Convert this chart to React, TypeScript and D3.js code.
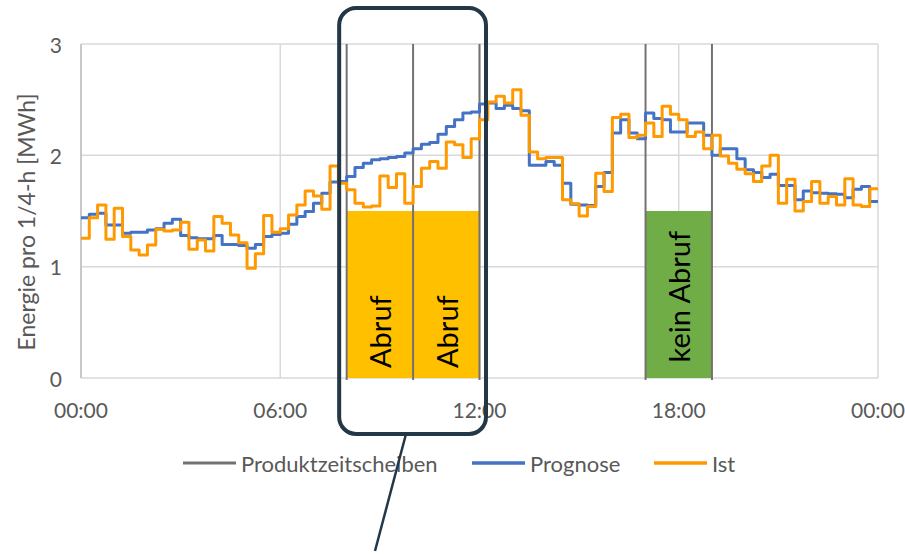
import React from "react";
import * as d3 from "d3";

const prognose: number[] = [
  1.44, 1.47, 1.48, 1.375, 1.375, 1.3, 1.31, 1.31, 1.33, 1.34, 1.39, 1.425,
  1.28, 1.26, 1.25, 1.25, 1.28, 1.2, 1.2, 1.19, 1.165, 1.2, 1.27, 1.29,
  1.3, 1.38, 1.45, 1.495, 1.57, 1.66, 1.76, 1.765, 1.81, 1.89, 1.93, 1.96,
  1.97, 1.98, 1.99, 2.02, 2.06, 2.1, 2.115, 2.19, 2.26, 2.32, 2.38, 2.39,
  2.46, 2.47, 2.42, 2.45, 2.42, 2.4, 1.91, 1.91, 1.945, 1.91, 1.75, 1.56,
  1.555, 1.55, 1.72, 1.845, 2.2, 2.32, 2.2, 2.15, 2.38, 2.33, 2.32, 2.21,
  2.21, 2.29, 2.29, 2.18, 2.0, 2.06, 2.06, 1.97, 1.87, 1.845, 1.8, 1.83,
  1.73, 1.73, 1.6, 1.68, 1.665, 1.66, 1.655, 1.65, 1.62, 1.695, 1.72, 1.585,
];

const ist: number[] = [
  1.255, 1.44, 1.555, 1.246, 1.525, 1.27, 1.15, 1.105, 1.195, 1.335, 1.32, 1.33,
  1.4, 1.156, 1.24, 1.14, 1.45, 1.39, 1.285, 1.215, 0.985, 1.115, 1.46, 1.31,
  1.34, 1.465, 1.555, 1.68, 1.635, 1.515, 1.905, 1.75, 1.69, 1.57, 1.535, 1.545,
  1.815, 1.71, 1.835, 1.57, 1.72, 1.885, 1.945, 1.885, 2.12, 2.095, 1.98, 2.15,
  2.32, 2.48, 2.53, 2.47, 2.59, 2.36, 2.03, 1.97, 1.98, 1.98, 1.6, 1.565,
  1.455, 1.54, 1.84, 1.675, 2.34, 2.37, 2.16, 2.18, 2.29, 2.17, 2.44, 2.37,
  2.32, 2.17, 2.21, 2.06, 2.18, 1.995, 1.93, 1.875, 1.835, 1.765, 1.905, 2.0,
  1.57, 1.785, 1.5, 1.585, 1.765, 1.57, 1.63, 1.555, 1.79, 1.555, 1.54, 1.7,
];

// time axis in quarter hours (0..96)
const xTicks: number[] = [0, 24, 48, 72, 96];
const xTickLabels: string[] = ["00:00", "06:00", "12:00", "18:00", "00:00"];
const yTicks: number[] = [0, 1, 2, 3];

// product time slices (quarter-hour boundaries)
const sliceLines: number[] = [32, 40, 48, 68, 76];
const barStarts: number[] = [32, 40, 68];
const barEnds: number[] = [40, 48, 76];
const barValues: number[] = [1.5, 1.5, 1.5];
const barLabels: string[] = ["Abruf", "Abruf", "kein Abruf"];
const barColors: string[] = ["#FFC000", "#FFC000", "#70AD47"];
const barLabelBase: number[] = [0.09, 0.09, 0.14];

const legendNames: string[] = ["Produktzeitscheiben", "Prognose", "Ist"];
const legendColors: string[] = ["#767171", "#4472C4", "#FF9900"];
const legendX: number[] = [183, 472, 654];

const FONT = "Lato, 'Open Sans', sans-serif";
const TEXT = "#595959";

export default function App() {
  const W = 905;
  const H = 556;
  const x = d3.scaleLinear().domain([0, 96]).range([81, 878]);
  const y = d3.scaleLinear().domain([0, 3]).range([378, 44]);

  const stepLine = d3
    .line<number>()
    .x((_, i) => x(i))
    .y((d) => y(d))
    .curve(d3.curveStepAfter);

  const progPath = stepLine([...prognose, prognose[prognose.length - 1]]) || "";
  const istPath = stepLine([...ist, ist[ist.length - 1]]) || "";

  // callout box around first product slices
  const cx0 = x(32) - 7.5;
  const cx1 = x(48) + 6.5;
  const cy0 = 8;
  const cy1 = 434;

  return (
    <svg
      width={W}
      height={H}
      style={{ position: "absolute", left: 0, top: 0, background: "#fff" }}
      fontFamily={FONT}
    >
      <rect x={0} y={0} width={W} height={H} fill="#fff" />
      {/* gridlines */}
      {yTicks.map((t) => (
        <line key={"gy" + t} x1={x(0)} x2={x(96)} y1={y(t)} y2={y(t)} stroke="#D9D9D9" strokeWidth={1.5} />
      ))}
      {xTicks.map((t, i) => (
        <line key={"gx" + i} x1={x(t)} x2={x(t)} y1={y(3)} y2={y(0)} stroke="#D9D9D9" strokeWidth={1.5} />
      ))}
      <line x1={x(0)} x2={x(0)} y1={y(3)} y2={y(0)} stroke="#BFBFBF" strokeWidth={1.5} />

      {/* bars */}
      {barStarts.map((s, i) => (
        <rect
          key={"bar" + i}
          x={x(s)}
          width={x(barEnds[i]) - x(s)}
          y={y(barValues[i])}
          height={y(0) - y(barValues[i])}
          fill={barColors[i]}
        />
      ))}

      {/* product slice lines */}
      {sliceLines.map((s, i) => (
        <line key={"sl" + i} x1={x(s)} x2={x(s)} y1={y(3)} y2={y(0) + 2} stroke="#767171" strokeWidth={2} />
      ))}

      {/* series */}
      <path d={progPath} fill="none" stroke="#4472C4" strokeWidth={3} strokeLinejoin="round" />
      <path d={istPath} fill="none" stroke="#FF9900" strokeWidth={3} strokeLinejoin="round" />

      {/* bar labels */}
      {barStarts.map((s, i) => {
        const cx = (x(s) + x(barEnds[i])) / 2;
        const by = y(barLabelBase[i]);
        return (
          <text
            key={"bl" + i}
            transform={`translate(${cx},${by}) rotate(-90)`}
            textAnchor="start"
            dominantBaseline="central"
            fontSize={29}
            fill="#000"
          >
            {barLabels[i]}
          </text>
        );
      })}

      {/* y tick labels */}
      {yTicks.map((t) => (
        <text key={"yt" + t} x={62} y={y(t)} textAnchor="end" dominantBaseline="central" fontSize={21} fill={TEXT}>
          {t}
        </text>
      ))}
      {/* x tick labels */}
      {xTicks.map((t, i) => (
        <text key={"xt" + i} x={x(t)} y={409} textAnchor="middle" dominantBaseline="central" fontSize={21} fill={TEXT}>
          {xTickLabels[i]}
        </text>
      ))}

      {/* y axis title */}
      <text
        transform={`translate(26,222) rotate(-90)`}
        textAnchor="middle"
        dominantBaseline="central"
        fontSize={23}
        fill={TEXT}
      >
        Energie pro 1/4-h [MWh]
      </text>

      {/* legend */}
      <g fontSize={22} fill={TEXT}>
        {legendNames.map((n, i) => (
          <g key={"lg" + i}>
            <line
              x1={legendX[i]}
              x2={legendX[i] + 53}
              y1={463}
              y2={463}
              stroke={legendColors[i]}
              strokeWidth={i === 0 ? 3 : 3.5}
            />
            <text x={legendX[i] + 58} y={463} dominantBaseline="central">
              {n}
            </text>
          </g>
        ))}
      </g>

      {/* callout */}
      <rect
        x={cx0}
        y={cy0}
        width={cx1 - cx0}
        height={cy1 - cy0}
        rx={17}
        ry={17}
        fill="none"
        stroke="#243746"
        strokeWidth={4}
      />
      <line x1={406} y1={cy1} x2={375} y2={551} stroke="#243746" strokeWidth={2.5} />
    </svg>
  );
}
